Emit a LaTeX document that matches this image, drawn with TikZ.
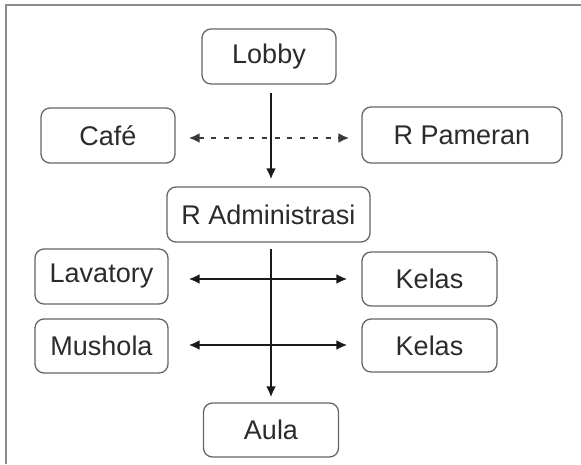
\documentclass[tikz,border=0pt]{standalone}
\usepackage{fontspec}
\setmainfont{Liberation Sans}
\usetikzlibrary{arrows.meta}
\definecolor{boxline}{HTML}{666666}
\definecolor{inkline}{HTML}{1A1A1A}
\definecolor{dashink}{HTML}{3A3A3A}
\definecolor{txt}{HTML}{2B2B2B}
\definecolor{frame}{HTML}{8C8C8C}
\tikzset{
  room/.style={draw=boxline, line width=1.3pt, rounded corners=9pt, fill=white,
    text=txt, font=\fontsize{27}{30}\selectfont, inner sep=0pt},
  tip/.tip={Latex[length=11pt,width=10pt]},
  flow/.style={draw=inkline, line width=2.4pt, -tip},
  link/.style={draw=inkline, line width=2.4pt, tip-tip},
  linkdash/.style={link, draw=dashink, dash pattern=on 5pt off 7.7pt},
}
\begin{document}
\begin{tikzpicture}[x=1pt, y=-1pt]
  \useasboundingbox (0,0) rectangle (581,464);
  \fill[white] (0,0) rectangle (581,464);
  % outer frame (top and left edges)
  \draw[frame, line width=2pt] (6,464) -- (6,5) -- (581,5);

  % rooms
  \node[room, minimum width=134pt, minimum height=55pt] (lobby)   at (269,56.5)  {Lobby};
  \node[room, minimum width=134pt, minimum height=55pt] (cafe)    at (108,135.5) {Café};
  \node[room, minimum width=200pt, minimum height=56pt] (pameran) at (462,135)   {R Pameran};
  \node[room, minimum width=203pt, minimum height=55pt] (admin)   at (268.5,214.5) {R Administrasi};
  \node[room, minimum width=133pt, minimum height=55pt] (lav)     at (101.5,276.5) {Lavatory};
  \node[room, minimum width=133pt, minimum height=54pt] (mus)     at (101.5,346) {Mushola};
  \node[room, minimum width=135pt, minimum height=54pt] (kelasa)  at (429.5,279) {Kelas};
  \node[room, minimum width=135pt, minimum height=53pt] (kelasb)  at (429.5,345.5) {Kelas};
  \node[room, minimum width=135pt, minimum height=54pt] (aula)    at (271,430)   {Aula};

  % main circulation spine
  \draw[flow] ([xshift=2pt,yshift=-8pt]lobby.south) -- ([xshift=2.5pt,yshift=7pt]admin.north);
  \draw[flow] ([xshift=2.5pt,yshift=-6pt]admin.south) -- ([xshift=0pt,yshift=5pt]aula.north);

  % side connections
  \draw[linkdash] ([xshift=13pt,yshift=-2.5pt]cafe.east) -- ([xshift=-12pt,yshift=-3pt]pameran.west);
  \draw[link] ([xshift=20pt,yshift=-2.5pt]lav.east) -- ([xshift=-14pt]kelasa.west);
  \draw[link] ([xshift=20pt,yshift=1pt]mus.east) -- ([xshift=-14pt,yshift=0.5pt]kelasb.west);
\end{tikzpicture}
\end{document}
